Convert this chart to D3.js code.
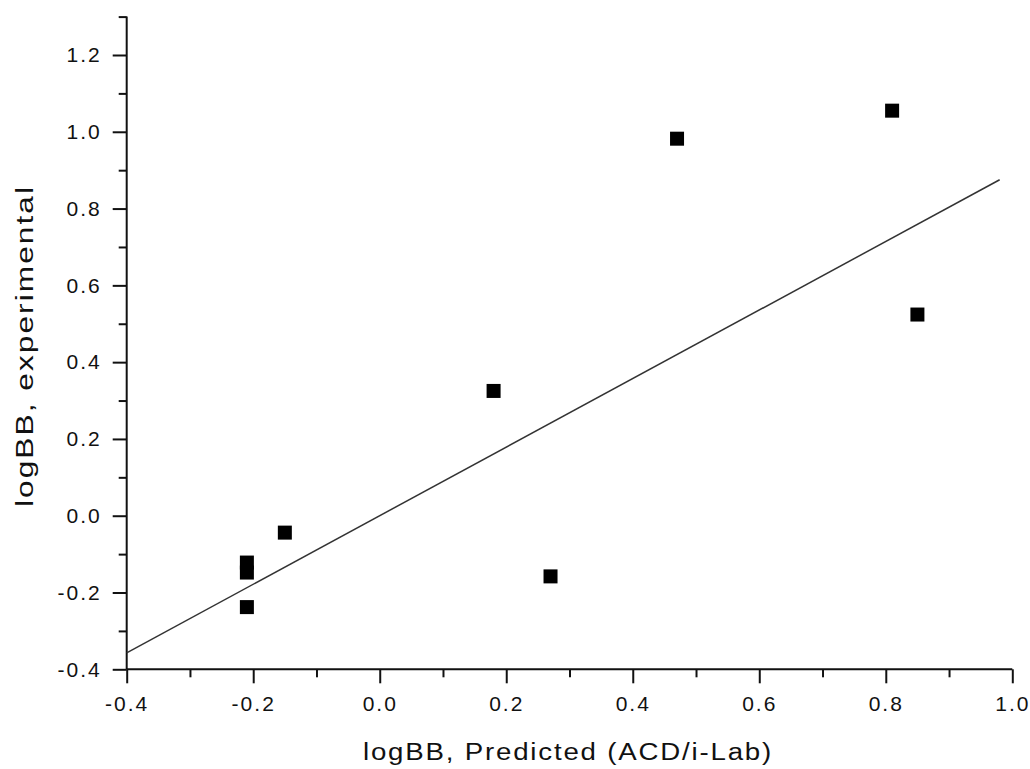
<!DOCTYPE html>
<html>
<head>
<meta charset="utf-8">
<script src="https://cdn.jsdelivr.net/npm/d3@7"></script>
<style>
  html, body { margin: 0; padding: 0; background: #fff; }
  svg { display: block; }
  text { font-family: "Liberation Sans", Arial, sans-serif; fill: #111; }
</style>
</head>
<body>
<svg id="chart" width="1030" height="769"></svg>
<script>
// Predicted vs experimental logBB values
const predicted    = [-0.21, -0.21, -0.21, -0.15, 0.18, 0.27, 0.47, 0.81, 0.85];
const experimental = [-0.122, -0.148, -0.238, -0.044, 0.325, -0.158, 0.982, 1.055, 0.524];

// Linear fit drawn across the predicted range
const fitX = [-0.4, 0.98];
const fitY = [-0.357, 0.875];

// Axis ticks
const xMajor = [-0.4, -0.2, 0.0, 0.2, 0.4, 0.6, 0.8, 1.0];
const xMinor = [-0.3, -0.1, 0.1, 0.3, 0.5, 0.7, 0.9];
const yMajor = [-0.4, -0.2, 0.0, 0.2, 0.4, 0.6, 0.8, 1.0, 1.2];
const yMinor = [-0.3, -0.1, 0.1, 0.3, 0.5, 0.7, 0.9, 1.1, 1.3];

const xTitle = "logBB, Predicted (ACD/i-Lab)";
const yTitle = "logBB, experimental";

const svg = d3.select("#chart");

const x = d3.scaleLinear().domain([-0.4, 1.0]).range([126.7, 1012.3]);
const y = d3.scaleLinear().domain([-0.4, 1.3]).range([669.3, 16.6]);

// one decimal, plain hyphen for negatives
const fmt = v => d3.format(".1f")(v).replace("\u2212", "-");

// Y axis: major ticks with labels, then unlabeled minor ticks
const yAxis = svg.append("g").attr("transform", `translate(${x(-0.4)},0)`);
yAxis.call(d3.axisLeft(y).tickValues(yMajor).tickSize(14).tickPadding(11).tickFormat(fmt));
yAxis.append("g").call(d3.axisLeft(y).tickValues(yMinor).tickSize(8).tickFormat(""))
  .select(".domain").remove();

// X axis
const xAxis = svg.append("g").attr("transform", `translate(0,${y(-0.4)})`);
xAxis.call(d3.axisBottom(x).tickValues(xMajor).tickSize(14).tickPadding(13).tickFormat(fmt));
xAxis.append("g").call(d3.axisBottom(x).tickValues(xMinor).tickSize(8).tickFormat(""))
  .select(".domain").remove();

svg.selectAll(".domain").attr("stroke", "#111").attr("stroke-width", 2);
svg.selectAll(".tick line").attr("stroke", "#111").attr("stroke-width", 2);
svg.selectAll(".tick text")
  .style("font-size", "21px")
  .style("letter-spacing", "2px")
  .attr("fill", "#1a1a1a");

// Plain axis lines without end caps
yAxis.select(".domain").attr("d", `M0,${y(1.3)}V${y(-0.4)}`);
xAxis.select(".domain").attr("d", `M${x(-0.4)},0H${x(1.0)}`);

// Fit line
const line = d3.line().x(d => x(d[0])).y(d => y(d[1]));
svg.append("path")
  .datum(d3.zip(fitX, fitY))
  .attr("d", line)
  .attr("fill", "none")
  .attr("stroke", "#333")
  .attr("stroke-width", 1.5);

// Data points as filled squares
const side = 14;
svg.append("g").selectAll("rect")
  .data(d3.zip(predicted, experimental))
  .join("rect")
  .attr("x", d => x(d[0]) - side / 2)
  .attr("y", d => y(d[1]) - side / 2)
  .attr("width", side)
  .attr("height", side)
  .attr("fill", "#000");

// Axis titles
svg.append("text")
  .attr("x", 568)
  .attr("y", 760)
  .attr("text-anchor", "middle")
  .attr("textLength", 410)
  .attr("lengthAdjust", "spacingAndGlyphs")
  .style("font-size", "23px")
  .style("letter-spacing", "1.5px")
  .attr("fill", "#222")
  .text(xTitle);

svg.append("text")
  .attr("transform", "translate(33,346) rotate(-90)")
  .attr("text-anchor", "middle")
  .attr("textLength", 322)
  .attr("lengthAdjust", "spacingAndGlyphs")
  .style("font-size", "23px")
  .style("letter-spacing", "1.5px")
  .attr("fill", "#222")
  .text(yTitle);
</script>
</body>
</html>
